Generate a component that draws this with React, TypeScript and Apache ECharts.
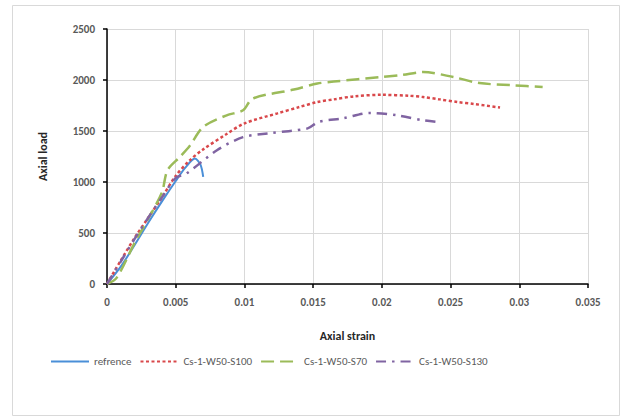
import React, { useEffect, useRef } from "react";
import * as echarts from "echarts";

const seriesNames = ["refrence", "Cs-1-W50-S100", "Cs-1-W50-S70", "Cs-1-W50-S130"];

const refrence: [number, number][] = [
  [0, 0], [0.001, 170], [0.002, 380], [0.003, 600], [0.004, 810], [0.005, 1010],
  [0.0057, 1140], [0.0064, 1230], [0.0068, 1170], [0.007, 1050],
];
const s100: [number, number][] = [
  [0, 0], [0.001, 230], [0.002, 450], [0.003, 650], [0.004, 850], [0.005, 1060],
  [0.006, 1210], [0.007, 1320], [0.0087, 1470], [0.01, 1575], [0.0124, 1673],
  [0.014, 1735], [0.0153, 1784], [0.0165, 1810], [0.018, 1840], [0.02, 1855],
  [0.022, 1845], [0.023, 1833], [0.0242, 1810], [0.0255, 1784], [0.0267, 1765], [0.0286, 1730],
];
const s70: [number, number][] = [
  [0, 0], [0.0007, 60], [0.002, 400], [0.003, 640], [0.004, 900], [0.0044, 1115],
  [0.0053, 1245], [0.006, 1350], [0.007, 1540], [0.0087, 1654], [0.0099, 1703],
  [0.0106, 1818], [0.0136, 1906], [0.0153, 1965], [0.0165, 1985], [0.02, 2029],
  [0.0215, 2050], [0.023, 2078], [0.0252, 2029], [0.0271, 1970], [0.0296, 1948], [0.0317, 1931],
];
const s130: [number, number][] = [
  [0, 0], [0.001, 220], [0.002, 440], [0.003, 650], [0.004, 850], [0.005, 1040],
  [0.0058, 1085], [0.008, 1311], [0.0099, 1440], [0.0119, 1480], [0.0146, 1526],
  [0.0154, 1590], [0.0172, 1625], [0.0191, 1677], [0.0211, 1654], [0.023, 1605], [0.0239, 1590],
];

const xTicks = ["0", "0.005", "0.01", "0.015", "0.02", "0.025", "0.03", "0.035"];

const FONT = "Carlito, 'Liberation Sans Narrow', 'DejaVu Sans Condensed', sans-serif";

export default function App() {
  const ref = useRef<HTMLDivElement>(null);
  useEffect(() => {
    const chart = echarts.init(ref.current!, undefined, { renderer: "svg" });
    const mk = (name: string, data: [number, number][], color: string, type: any, width: number) => ({
      name,
      type: "line",
      data,
      smooth: 0.3,
      showSymbol: false,
      symbol: "none",
      lineStyle: { color, type, width, cap: "butt" },
      itemStyle: { color },
    });
    chart.setOption({
      animation: false,
      backgroundColor: "#fff",
      graphic: [
        {
          type: "rect",
          shape: { x: 12.5, y: 5.5, width: 607, height: 410 },
          style: { fill: "none", stroke: "#d9d9d9", lineWidth: 1 },
          silent: true,
        },
      ],
      grid: { left: 107, top: 29, width: 481, height: 255, containLabel: false },
      legend: {
        left: 45,
        top: 351,
        itemWidth: 38,
        itemHeight: 12,
        itemGap: 8,
        itemStyle: { opacity: 0 },
        textStyle: { fontFamily: FONT, fontSize: 11, color: "#595959" },
        data: seriesNames,
      },
      xAxis: {
        type: "value",
        min: 0,
        max: 0.035,
        interval: 0.005,
        name: "Axial strain",
        nameLocation: "middle",
        nameGap: 46,
        nameTextStyle: { fontFamily: FONT, fontSize: 12, fontWeight: "bold", color: "#262626" },
        axisLine: { show: true, lineStyle: { color: "#000", width: 1.5 } },
        axisTick: { show: true, inside: false, length: 4, lineStyle: { color: "#000", width: 1.5 } },
        axisLabel: {
          margin: 13,
          fontFamily: FONT,
          fontSize: 11,
          fontWeight: "bold",
          color: "#595959",
          formatter: (v: number) => xTicks[Math.round(v / 0.005)] ?? "",
        },
        splitLine: { show: true, lineStyle: { color: "#d9d9d9", width: 1 } },
      },
      yAxis: {
        type: "value",
        min: 0,
        max: 2500,
        interval: 500,
        name: "Axial load",
        nameLocation: "middle",
        nameGap: 58,
        nameTextStyle: { fontFamily: FONT, fontSize: 12, fontWeight: "bold", color: "#262626" },
        axisLine: { show: true, lineStyle: { color: "#000", width: 1.5 } },
        axisTick: { show: true, inside: false, length: 4, lineStyle: { color: "#000", width: 1.5 } },
        axisLabel: {
          margin: 12,
          fontFamily: FONT,
          fontSize: 11,
          fontWeight: "bold",
          color: "#595959",
          formatter: (v: number) => String(v),
        },
        splitLine: { show: true, lineStyle: { color: "#d9d9d9", width: 1 } },
      },
      series: [
        mk(seriesNames[0], refrence, "#4a8fd8", "solid", 2),
        mk(seriesNames[1], s100, "#d9484b", [3, 2.5], 2.5),
        mk(seriesNames[2], s70, "#9bbb59", [13, 6], 2.5),
        mk(seriesNames[3], s130, "#8064a2", [10, 6, 2.5, 6], 2.5),
      ],
    });
    return () => chart.dispose();
  }, []);
  return (
    <div
      ref={ref}
      style={{ position: "absolute", left: 0, top: 0, width: 621, height: 419 }}
    />
  );
}
